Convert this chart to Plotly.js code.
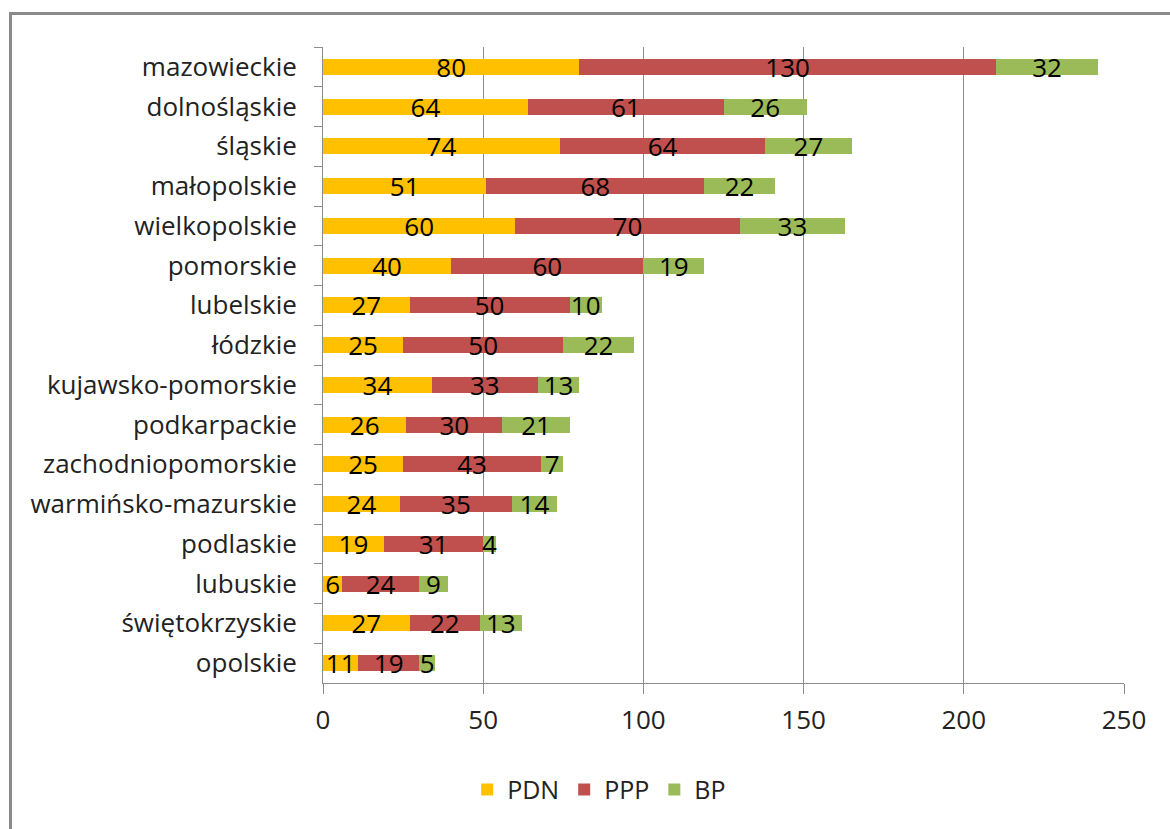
<!DOCTYPE html>
<html>
<head>
<meta charset="utf-8">
<script src="https://cdn.plot.ly/plotly-3.0.1.min.js"></script>
<style>
  html, body { margin: 0; padding: 0; background: #fff; }
  #wrap { position: relative; width: 1170px; height: 829px; overflow: hidden; }
  #frame { position: absolute; left: 9px; top: 12px; width: 1200px; height: 900px;
           border-left: 3px solid #8a8a8a; border-top: 3px solid #8a8a8a; box-sizing: border-box; }
  #chart { position: absolute; left: 0; top: 0; width: 1170px; height: 829px; }
</style>
</head>
<body>
<div id="wrap">
  <div id="frame"></div>
  <div id="chart"></div>
</div>
<script>
const categories = ["mazowieckie","dolnośląskie","śląskie","małopolskie","wielkopolskie","pomorskie","lubelskie","łódzkie","kujawsko-pomorskie","podkarpackie","zachodniopomorskie","warmińsko-mazurskie","podlaskie","lubuskie","świętokrzyskie","opolskie"];
const PDN = [80,64,74,51,60,40,27,25,34,26,25,24,19,6,27,11];
const PPP = [130,61,64,68,70,60,50,50,33,30,43,35,31,24,22,19];
const BP  = [32,26,27,22,33,19,10,22,13,21,7,14,4,9,13,5];
const xTicks = [0,50,100,150,200,250];

const FONT = "'Open Sans', Lato, sans-serif";
const FS = 26;
function series(name, vals, color) {
  return {
    type: 'bar', orientation: 'h', name: name,
    y: categories, x: vals,
    marker: {color: color},
    text: vals.map(String),
    textposition: 'inside',
    insidetextanchor: 'middle',
    textangle: 0,
    constraintext: 'none',
    textfont: {family: FONT, size: FS, color: '#000'},
    hoverinfo: 'x+y+name'
  };
}
const data = [
  series('PDN', PDN, '#FFC000'),
  series('PPP', PPP, '#C0504D'),
  series('BP', BP, '#9BBB59')
];
const layout = {
  width: 1170, height: 829,
  paper_bgcolor: 'rgba(0,0,0,0)', plot_bgcolor: 'rgba(0,0,0,0)',
  margin: {l: 323, r: 46, t: 47, b: 146},
  barmode: 'stack', bargap: 0.6,
  font: {family: FONT, size: FS, color: '#222'},
  xaxis: {
    range: [0, 250], tickvals: xTicks, ticktext: xTicks.map(String),
    showgrid: true, gridcolor: '#8c8c8c', gridwidth: 1,
    showline: true, linecolor: '#8c8c8c', linewidth: 1,
    ticks: 'outside', ticklen: 10, tickcolor: '#8c8c8c',
    zeroline: false, tickfont: {family: FONT, size: FS, color: '#222'},
    ticklabelstandoff: 4,
    fixedrange: true
  },
  yaxis: {
    autorange: 'reversed', type: 'category',
    showline: true, linecolor: '#8c8c8c', linewidth: 1,
    ticks: 'outside', ticklen: 8, tickcolor: '#8c8c8c', tickson: 'boundaries',
    showgrid: false, ticklabelstandoff: 20,
    tickfont: {family: FONT, size: FS, color: '#222'},
    fixedrange: true
  },
  showlegend: true,
  legend: {orientation: 'h', x: 0.18, xanchor: 'left', y: -0.168, yanchor: 'middle',
           font: {family: FONT, size: 25, color: '#222'}, traceorder: 'normal',
           itemwidth: 30, bgcolor: 'rgba(0,0,0,0)'}
};
Plotly.newPlot('chart', data, layout, {displayModeBar: false, staticPlot: true});
</script>
</body>
</html>
